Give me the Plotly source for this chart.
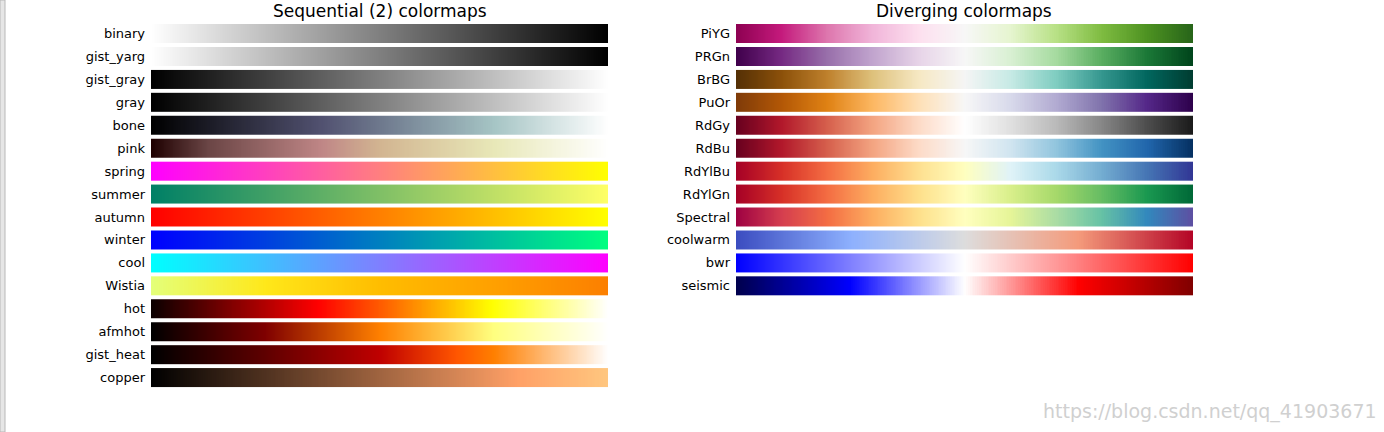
import numpy as np
import plotly.graph_objects as go
import plotly.colors as pc

seq_names = ["binary","gist_yarg","gist_gray","gray","bone","pink","spring","summer",
             "autumn","winter","cool","Wistia","hot","afmhot","gist_heat","copper"]
div_names = ["PiYG","PRGn","BrBG","PuOr","RdGy","RdBu","RdYlBu","RdYlGn","Spectral",
             "coolwarm","bwr","seismic"]

def even(cols):
    n = len(cols)
    return [[i/(n-1), c] for i, c in enumerate(cols)]

scales = {
    "binary": even(["#ffffff","#000000"]),
    "gist_yarg": even(["#ffffff","#000000"]),
    "gist_gray": even(["#000000","#ffffff"]),
    "gray": even(["#000000","#ffffff"]),
    "bone": [[0,"#000000"],[0.375,"#525271"],[0.75,"#a6c5c5"],[1,"#ffffff"]],
    "pink": [[0,"#1e0000"],[0.125,"#6b4646"],[0.375,"#c08787"],[0.5,"#d2b591"],[0.75,"#e8e8b8"],[1,"#ffffff"]],
    "spring": even(["#ff00ff","#ffff00"]),
    "summer": even(["#008066","#ffff66"]),
    "autumn": even(["#ff0000","#ffff00"]),
    "winter": even(["#0000ff","#00ff80"]),
    "cool": even(["#00ffff","#ff00ff"]),
    "Wistia": even(["#e4ff7a","#ffe81a","#ffbd00","#ffa000","#fc7f00"]),
    "hot": [[0,"#0b0000"],[0.365,"#ff0000"],[0.746,"#ffff00"],[1,"#ffffff"]],
    "afmhot": even(["#000000","#800000","#ff8000","#ffff80","#ffffff"]),
    "gist_heat": [[0,"#000000"],[0.5,"#bf0000"],[0.667,"#ff5500"],[0.75,"#ff8000"],[1,"#ffffff"]],
    "copper": [[0,"#000000"],[0.8,"#ffa066"],[1,"#ffc77f"]],
    "PiYG": even(pc.diverging.PiYG),
    "PRGn": even(pc.diverging.PRGn),
    "BrBG": even(pc.diverging.BrBG),
    "PuOr": even(pc.diverging.PuOr),
    "RdGy": even(pc.diverging.RdGy),
    "RdBu": even(pc.diverging.RdBu),
    "RdYlBu": even(pc.diverging.RdYlBu),
    "RdYlGn": even(pc.diverging.RdYlGn),
    "Spectral": even(pc.diverging.Spectral),
    "coolwarm": [[0,"#3b4cc0"],[0.25,"#8db0fe"],[0.5,"#dddddd"],[0.75,"#f49a7b"],[1,"#b40426"]],
    "bwr": even(["#0000ff","#ffffff","#ff0000"]),
    "seismic": even(["#00004c","#0000ff","#ffffff","#ff0000","#800000"]),
}

gradient = [float(v) for v in np.linspace(0, 1, 256)]

fig = go.Figure()
for i, name in enumerate(seq_names):
    fig.add_trace(go.Heatmap(x=gradient, y=[i], z=[gradient], colorscale=scales[name],
                             zmin=0, zmax=1, showscale=False, ygap=4, hoverinfo="skip",
                             xaxis="x", yaxis="y"))
for i, name in enumerate(div_names):
    fig.add_trace(go.Heatmap(x=gradient, y=[i], z=[gradient], colorscale=scales[name],
                             zmin=0, zmax=1, showscale=False, ygap=4, hoverinfo="skip",
                             xaxis="x2", yaxis="y2"))

W, H = 1384, 432
px = lambda v: v / W
py = lambda v: 1 - v / H
pitch = 367/16
font = dict(family="DejaVu Sans", size=13, color="black")
fig.update_layout(
    width=W, height=H, margin=dict(l=0, r=0, t=0, b=0),
    paper_bgcolor="white", plot_bgcolor="white", font=font,
    xaxis=dict(domain=[px(151), px(608)], visible=False, range=[0, 1]),
    xaxis2=dict(domain=[px(736), px(1193)], visible=False, range=[0, 1]),
    yaxis=dict(domain=[py(389), py(22)], range=[len(seq_names)-0.5, -0.5],
               tickvals=list(range(len(seq_names))), ticktext=seq_names,
               showgrid=False, zeroline=False, ticks="", ticklabelstandoff=5, anchor="x"),
    yaxis2=dict(domain=[py(22+12*pitch), py(22)], range=[len(div_names)-0.5, -0.5],
                tickvals=list(range(len(div_names))), ticktext=div_names,
                showgrid=False, zeroline=False, ticks="", ticklabelstandoff=5, anchor="x2"),
    annotations=[
        dict(text="Sequential (2) colormaps", x=px((151+608)/2), y=py(11), xref="paper", yref="paper",
             xanchor="center", yanchor="middle", showarrow=False,
             font=dict(family="DejaVu Sans", size=17, color="black")),
        dict(text="Diverging colormaps", x=px((736+1193)/2), y=py(11), xref="paper", yref="paper",
             xanchor="center", yanchor="middle", showarrow=False,
             font=dict(family="DejaVu Sans", size=17, color="black")),
        dict(text="https://blog.csdn.net/qq_41903671", x=px(1379), y=py(411), xref="paper", yref="paper",
             xanchor="right", yanchor="middle", showarrow=False,
             font=dict(family="DejaVu Sans", size=19, color="#d0d0d0")),
    ],
    shapes=[dict(type="rect", xref="paper", yref="paper", x0=0, x1=px(5), y0=0, y1=1,
                 fillcolor="#e6e6e6", line=dict(color="#b8b8b8", width=1))],
)
fig.write_html("out.html", config={"displayModeBar": False},
               post_script="document.body.style.margin='0';document.body.style.overflow='hidden';")
